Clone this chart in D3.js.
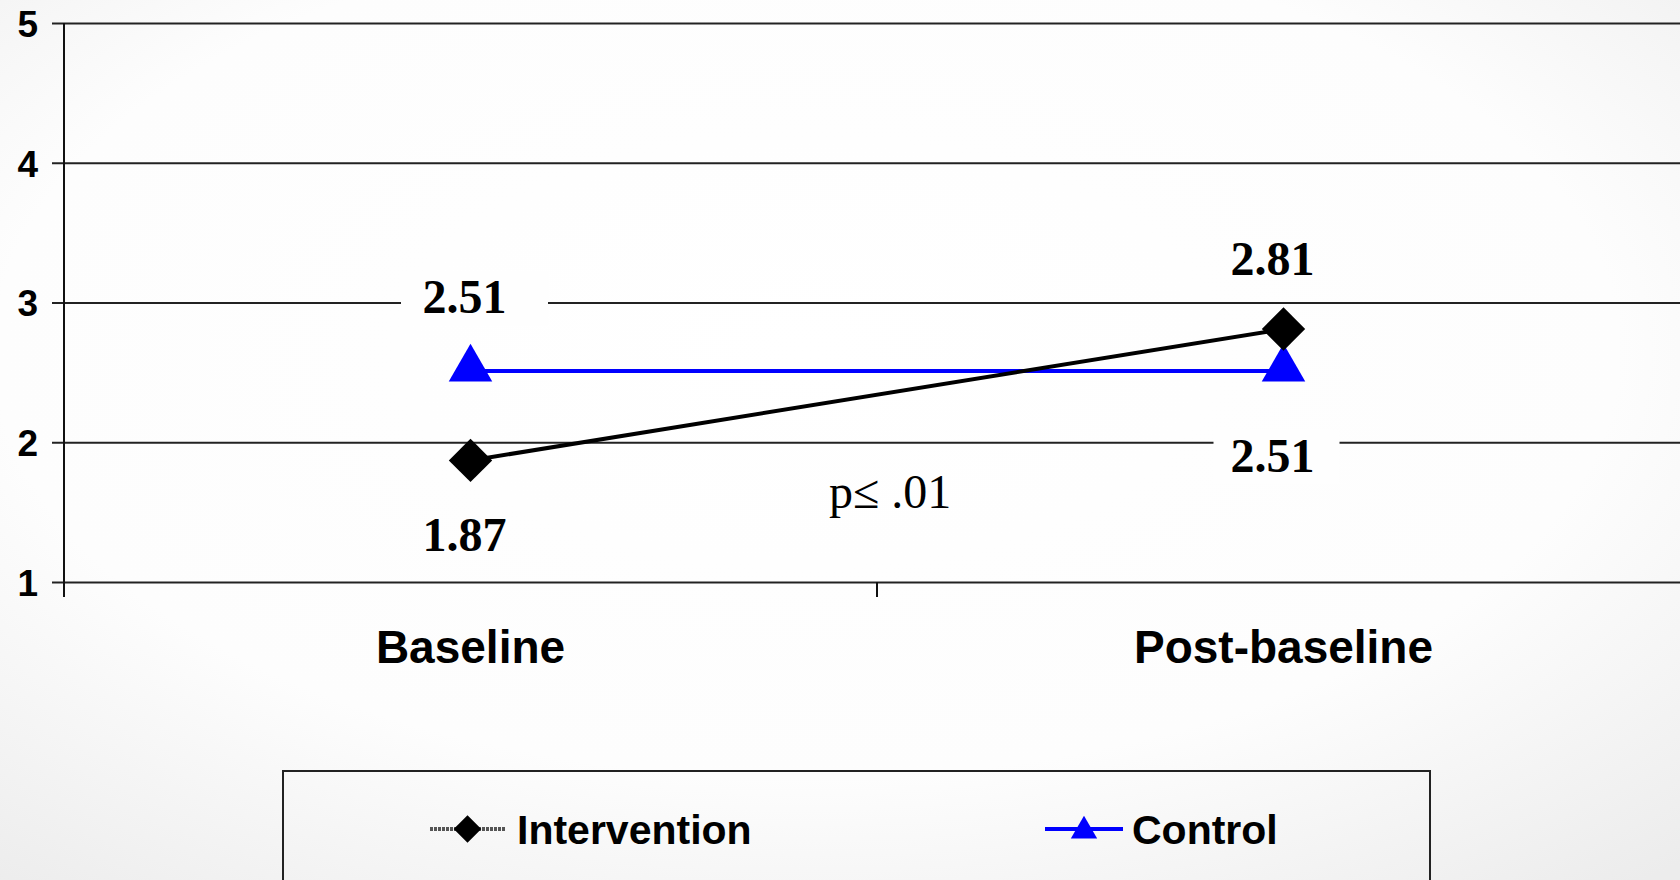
<!DOCTYPE html>
<html>
<head>
<meta charset="utf-8">
<script src="https://cdn.jsdelivr.net/npm/d3@7"></script>
<style>
  html, body { margin: 0; padding: 0; overflow: hidden; }
  svg { display: block; }
</style>
</head>
<body>
<svg id="chart" width="1680" height="880"></svg>
<script>
// Mean scores at each time point
const periods = ["Baseline", "Post-baseline"];
const intervention = [1.87, 2.81];
const control = [2.51, 2.51];
const yTicks = [1, 2, 3, 4, 5];
const seriesNames = ["Intervention", "Control"];
const pValueText = "p\u2264 .01";

(function draw() {
  const W = 1680, H = 880;
  const svg = d3.select("#chart");

  // Soft slide background
  const defs = svg.append("defs");
  const bg = defs.append("radialGradient").attr("id", "bg")
    .attr("cx", "48%").attr("cy", "40%").attr("r", "78%");
  bg.append("stop").attr("offset", "0%").attr("stop-color", "#ffffff");
  bg.append("stop").attr("offset", "62%").attr("stop-color", "#fdfdfd");
  bg.append("stop").attr("offset", "100%").attr("stop-color", "#ececec");
  svg.append("rect").attr("width", W).attr("height", H).attr("fill", "url(#bg)");

  const plotLeft = 64, plotRight = 1690, plotTop = 23, plotBottom = 582;

  const x = d3.scaleBand().domain(periods).range([plotLeft, plotRight]);
  const y = d3.scaleLinear().domain([1, 5]).range([plotBottom, plotTop]);
  const cx = d => x(d) + x.bandwidth() / 2;

  // Horizontal gridlines with short tick stubs
  const yAxis = d3.axisLeft(y).tickValues(yTicks).tickFormat(d3.format("d"))
    .tickSize(-(plotRight - plotLeft)).tickSizeOuter(0).tickPadding(18);
  const gy = svg.append("g").attr("transform", `translate(${plotLeft},0)`).call(yAxis);
  gy.select(".domain").remove();
  gy.selectAll(".tick line").attr("x1", -12).attr("stroke", "#222").attr("stroke-width", 2);
  gy.selectAll(".tick text")
    .attr("font-family", "Arial, 'Liberation Sans', sans-serif")
    .attr("font-weight", "bold").attr("font-size", 37).attr("fill", "#000")
    .attr("x", -26).attr("dy", "0.36em");

  // Vertical axis line
  svg.append("line").attr("x1", plotLeft).attr("x2", plotLeft)
    .attr("y1", plotTop).attr("y2", plotBottom + 15)
    .attr("stroke", "#111").attr("stroke-width", 2);

  // Category axis
  const xAxis = d3.axisBottom(x).tickSize(0).tickPadding(0);
  const gx = svg.append("g").attr("transform", `translate(0,${plotBottom})`).call(xAxis);
  gx.select(".domain").remove();
  gx.selectAll(".tick text")
    .attr("font-family", "Arial, 'Liberation Sans', sans-serif")
    .attr("font-weight", "bold").attr("font-size", 46).attr("fill", "#000")
    .attr("y", 81).attr("dy", 0);
  // Boundary ticks between categories
  const boundaries = [plotLeft, x(periods[1]), plotRight];
  svg.selectAll("line.bt").data(boundaries).join("line").attr("class", "bt")
    .attr("x1", d => d).attr("x2", d => d)
    .attr("y1", plotBottom).attr("y2", plotBottom + 15)
    .attr("stroke", "#111").attr("stroke-width", 2);

  // Series lines
  const line = d3.line().x((d, i) => cx(periods[i])).y(d => y(d));
  svg.append("path").datum(control).attr("d", line)
    .attr("fill", "none").attr("stroke", "#0000ff").attr("stroke-width", 4);
  svg.append("path").datum(intervention).attr("d", line)
    .attr("fill", "none").attr("stroke", "#000").attr("stroke-width", 4);

  // Markers
  const tri = d3.symbol().type(d3.symbolTriangle).size(820);
  const dia = d3.symbol().type(d3.symbolSquare).size(940);
  svg.selectAll("path.ctl").data(control).join("path").attr("class", "ctl")
    .attr("d", tri)
    .attr("transform", (d, i) => `translate(${cx(periods[i])},${y(d) - 2})`)
    .attr("fill", "#0000ff");
  svg.selectAll("path.int").data(intervention).join("path").attr("class", "int")
    .attr("d", dia)
    .attr("transform", (d, i) => `translate(${cx(periods[i])},${y(d)}) rotate(45)`)
    .attr("fill", "#000");

  // Value labels, some on white boxes that break the gridline behind them
  const fmt = d3.format(".2f");
  const labels = [
    { v: control[0], px: 0, dx: -6, dy: -58, w: 147, bx: 10 },
    { v: intervention[0], px: 0, dx: -6, dy: 91, w: 0, bx: 0 },
    { v: intervention[1], px: 1, dx: -11, dy: -54, w: 0, bx: 0 },
    { v: control[1], px: 1, dx: -11, dy: 101, w: 126, bx: 4 }
  ];
  const lg = svg.selectAll("g.vl").data(labels).join("g").attr("class", "vl")
    .attr("transform", d => `translate(${cx(periods[d.px]) + d.dx},${y(d.v) + d.dy})`);
  lg.filter(d => d.w > 0).append("rect")
    .attr("x", d => d.bx - d.w / 2).attr("y", -42).attr("width", d => d.w).attr("height", 54)
    .attr("fill", "#fefefe");
  lg.append("text").text(d => fmt(d.v))
    .attr("text-anchor", "middle")
    .attr("font-family", "'Liberation Serif', 'DejaVu Serif', serif")
    .attr("font-weight", "bold").attr("font-size", 48).attr("fill", "#000");

  // Significance note
  svg.append("text").text(pValueText)
    .attr("x", 829).attr("y", 508)
    .attr("font-family", "'Liberation Serif', 'DejaVu Serif', serif")
    .attr("font-size", 48).attr("fill", "#000");

  // Legend
  svg.append("rect").attr("x", 283).attr("y", 771).attr("width", 1147).attr("height", 140)
    .attr("fill", "none").attr("stroke", "#222").attr("stroke-width", 2);
  const legendItems = [
    { name: seriesNames[0], x0: 430, x1: 505, color: "#555", dash: "3,1", sym: "dia", tx: 517 },
    { name: seriesNames[1], x0: 1045, x1: 1123, color: "#0000ff", dash: null, sym: "tri", tx: 1132 }
  ];
  const li = svg.selectAll("g.li").data(legendItems).join("g").attr("class", "li");
  li.append("line")
    .attr("x1", d => d.x0).attr("x2", d => d.x1).attr("y1", 829).attr("y2", 829)
    .attr("stroke", d => d.color).attr("stroke-width", 4)
    .attr("stroke-dasharray", d => d.dash);
  li.append("path")
    .attr("d", d => d.sym === "tri"
      ? d3.symbol().type(d3.symbolTriangle).size(300)()
      : d3.symbol().type(d3.symbolSquare).size(380)())
    .attr("transform", d => d.sym === "tri"
      ? `translate(${(d.x0 + d.x1) / 2},${831})`
      : `translate(${(d.x0 + d.x1) / 2},${829}) rotate(45)`)
    .attr("fill", d => d.sym === "tri" ? "#0000ff" : "#000");
  li.append("text").text(d => d.name)
    .attr("x", d => d.tx).attr("y", 844)
    .attr("font-family", "Arial, 'Liberation Sans', sans-serif")
    .attr("font-weight", "bold").attr("font-size", 41).attr("fill", "#000");
})();
</script>
</body>
</html>
